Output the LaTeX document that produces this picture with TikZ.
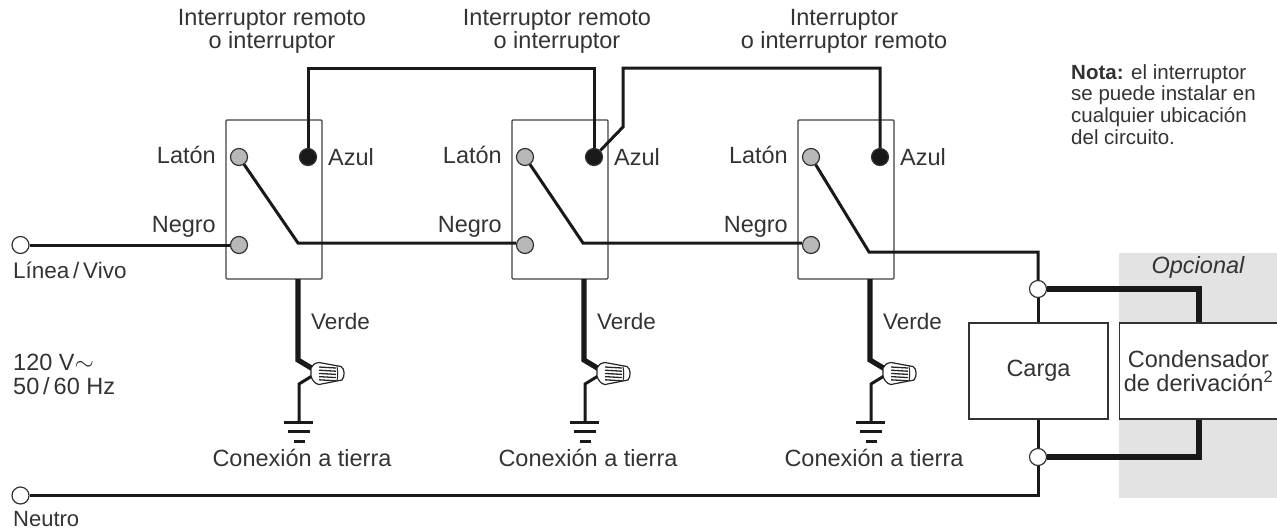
\documentclass[tikz,border=0pt]{standalone}
\usepackage{fontspec}
\setmainfont{Liberation Sans}
\begin{document}
\begin{tikzpicture}[x=1pt,y=-1pt,
  every node/.style={font=\fontsize{23.5}{23.5}\selectfont,text=black!80,inner sep=0pt,align=center},
  wire/.style={line width=3pt,black!90},
  thickwire/.style={line width=5.2pt,black!90},
  switchbox/.style={draw=black!75,line width=1.3pt,rounded corners=1pt,minimum width=96pt,minimum height=159pt},
  loadbox/.style={draw=black!80,line width=1.3pt,fill=white},
  term/.style={circle,draw=black!80,line width=1.2pt,minimum size=17pt},
  gterm/.style={term,fill=black!28},
  bterm/.style={term,fill=black!90},
  oterm/.style={term,fill=white},
  nut/.style={draw=black!85,line width=1.2pt,fill=white}]
  \useasboundingbox (0,0) rectangle (1277,531);
  \fill[black!11] (1119,253) rectangle (1277,498);

  % switches
  \foreach \n/\x in {a/0,b/286,c/572} {
    \node[switchbox] (box\n) at (274+\x,199.5) {};
    \node[anchor=east] (tlat\n) at (216+\x,155) {Latón};
    \node[anchor=east] (tneg\n) at (216+\x,227) {Negro};
    \node[anchor=west] (tazu\n) at (328+\x,157) {Azul};
    % ground
    \coordinate (gtop\n) at (298+\x,279);
    \coordinate (gmid\n) at (298+\x,360);
    \coordinate (gend\n) at (313+\x,369);
    \coordinate (gthin\n) at (312+\x,376);
    \coordinate (gbend\n) at (299+\x,384);
    \coordinate (gnd\n) at (299+\x,422);
    \draw[thickwire] (gtop\n) -- (gmid\n) -- (gend\n);
    \draw[wire] (gthin\n) -- (gbend\n) -- (gnd\n);
    \draw[wire] (284+\x,422) -- (313+\x,422);
    \draw[wire] (288+\x,431.5) -- (310+\x,431.5);
    \draw[wire] (294+\x,441) -- (305+\x,441);
    \draw[nut] (311+\x,368) .. controls (312+\x,365) and (315+\x,363) .. (319+\x,362.5)
      -- (341+\x,366.5) .. controls (345+\x,369) and (345+\x,376) .. (342+\x,380)
      -- (319+\x,384.5) .. controls (315+\x,384) and (312+\x,380) .. (311+\x,376) -- cycle;
    \foreach \d in {0,1,2,3,4}
      \draw[black!85,line width=1.3pt] (319+\x,{367+3.2*\d}) -- (336+\x,{368+3.2*\d});
    \draw[black!85,line width=1pt] (337+\x,366.5) .. controls (338+\x,372) and (338+\x,376) .. (337+\x,381);
    \node[anchor=west,font=\fontsize{22.5}{22.5}\selectfont] (tver\n) at (311+\x,321) {Verde};
    \node (tcon\n) at (302+\x,458) {Conexión a tierra};
  }

  % top labels
  \node (rema) at (272,31.5) {Interruptor remoto\\o interruptor};
  \node (remb) at (557,31.5) {Interruptor remoto\\o interruptor};
  \node (remc) at (844,31.5) {Interruptor\\o interruptor remoto};

  % wiring
  \coordinate (tl) at (308,68);
  \coordinate (tr) at (594,68);
  \coordinate (ul) at (623,127);
  \coordinate (um) at (623,68);
  \coordinate (ur) at (880,68);
  \coordinate (piva) at (298,243);
  \coordinate (pivb) at (583,243);
  \coordinate (pivc) at (869,252);
  \coordinate (cd) at (1038,252);
  \coordinate (ce) at (1038,495.5);
  \coordinate (ua) at (1199,289);
  \coordinate (ub) at (1199,457);
  \foreach \n/\x in {a/0,b/286,c/572} {
    \node[gterm] (lat\n) at (239+\x,157) {};
    \node[bterm] (azu\n) at (308+\x,157) {};
    \node[gterm] (neg\n) at (239+\x,245) {};
  }
  \node[oterm] (line) at (20.5,245) {};
  \node[oterm] (neut) at (20.5,495.5) {};
  \node[loadbox,minimum width=139pt,minimum height=96pt] (carga) at (1038.5,371) {Carga};
  \node[loadbox,minimum width=165pt,minimum height=96pt,anchor=west] (cond) at (1119,371) {};
  \node[font=\fontsize{23.5}{24.5}\selectfont] (tcond) at (1198.5,371) {Condensador\\de derivación\textsuperscript{2}};
  \node[oterm] (ctop) at (1038,289) {};
  \node[oterm] (cbot) at (1038,457) {};
  \draw[wire] (azua) -- (tl) -- (tr) -- (azub);
  \draw[wire] (azub) -- (ul) -- (um) -- (ur) -- (azuc);
  \draw[wire] (line) -- (nega);
  \draw[wire] (lata) -- (piva) -- (piva -| negb.west);
  \draw[wire] (latb) -- (pivb) -- (pivb -| negc.west);
  \draw[wire] (latc) -- (pivc) -- (cd) -- (ctop);
  \draw[wire] (ctop) -- (carga.north -| ctop);
  \draw[wire] (carga.south -| cbot) -- (cbot);
  \draw[wire] (cbot) -- (ce) -- (neut);
  \draw[thickwire] (ctop) -- (ua) -- (cond.north -| ua);
  \draw[thickwire] (cond.south -| ub) -- (ub) -- (cbot);

  % text
  \node[anchor=west,font=\fontsize{22.5}{22.5}\selectfont] (tline) at (13,270) {Línea\,/\,Vivo};
  \node[anchor=west,font=\fontsize{22}{22}\selectfont] (tneut) at (13,519) {Neutro};
  \node[anchor=west,align=left,font=\fontsize{23.5}{24}\selectfont] (tvolt) at (13,374) {120 V$\sim$\\50\,/\,60 Hz};
  \node[font=\fontsize{23.5}{23.5}\selectfont\itshape] (topc) at (1198,267) {Opcional};
  \node[anchor=north west,align=left,font=\fontsize{20.5}{21.7}\selectfont] (nota) at (1071,64) {\textbf{Nota:} el interruptor\\se puede instalar en\\cualquier ubicación\\del circuito.};
\end{tikzpicture}
\end{document}
